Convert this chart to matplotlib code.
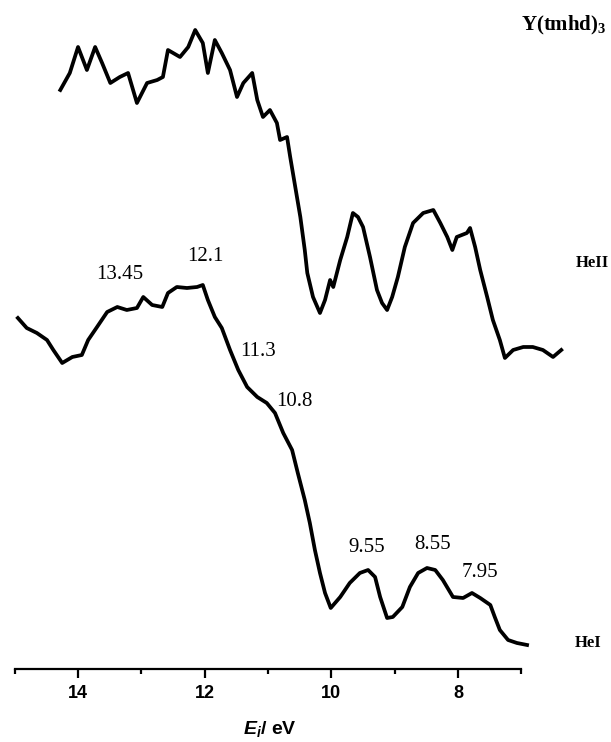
import matplotlib
matplotlib.use("Agg")
import matplotlib.pyplot as plt
from matplotlib.ticker import FixedLocator

plt.rcParams['mathtext.fontset'] = 'custom'
plt.rcParams['mathtext.rm'] = 'Liberation Sans:bold'
plt.rcParams['mathtext.it'] = 'Liberation Sans:italic:bold'
plt.rcParams['mathtext.bf'] = 'Liberation Serif:bold'

# HeII spectrum (ionisation energy / eV, intensity in arbitrary units)
he2_energy = [14.28, 14.13, 14.00, 13.86, 13.73, 13.62, 13.49, 13.34, 13.21, 13.07,
              12.91, 12.75, 12.66, 12.58, 12.39, 12.26, 12.15, 12.03, 11.95, 11.84,
              11.73, 11.60, 11.49, 11.39, 11.25, 11.17, 11.08, 10.97, 10.86, 10.81,
              10.70, 10.65, 10.57, 10.49, 10.42, 10.38, 10.29, 10.18, 10.10, 10.02,
              9.97, 9.86, 9.75, 9.66, 9.58, 9.50, 9.39, 9.28, 9.20, 9.12,
              9.04, 8.95, 8.84, 8.71, 8.55, 8.39, 8.28, 8.17, 8.09, 8.02,
              7.86, 7.81, 7.73, 7.65, 7.54, 7.45, 7.34, 7.26, 7.13, 6.97,
              6.82, 6.66, 6.50, 6.37]
he2_intensity = [579, 596, 622, 599, 622, 606, 586, 592, 596, 566,
                 586, 589, 592, 619, 612, 622, 639, 626, 596, 629,
                 616, 599, 572, 586, 596, 569, 552, 559, 546, 529,
                 532, 512, 482, 452, 419, 396, 372, 356, 369, 389,
                 382, 409, 432, 456, 452, 442, 412, 379, 366, 359,
                 372, 392, 422, 446, 456, 459, 446, 432, 419, 432,
                 436, 441, 422, 399, 372, 349, 329, 311, 319, 322,
                 322, 319, 312, 319]

# HeI spectrum
he1_energy = [14.95, 14.81, 14.65, 14.49, 14.39, 14.25, 14.09, 13.94, 13.84, 13.70,
              13.54, 13.38, 13.23, 13.07, 12.97, 12.83, 12.67, 12.58, 12.44, 12.28,
              12.12, 12.03, 11.95, 11.84, 11.73, 11.60, 11.47, 11.33, 11.17, 11.02,
              10.89, 10.76, 10.62, 10.53, 10.42, 10.34, 10.26, 10.18, 10.10, 10.01,
              9.86, 9.71, 9.55, 9.42, 9.31, 9.23, 9.12, 9.03, 8.88, 8.76,
              8.63, 8.49, 8.36, 8.24, 8.08, 7.92, 7.78, 7.65, 7.49, 7.42,
              7.34, 7.21, 7.07, 6.91]
he1_intensity = [351, 341, 336, 329, 319, 306, 312, 314, 329, 342,
                 357, 362, 359, 361, 372, 364, 362, 376, 382, 381,
                 382, 384, 369, 352, 341, 319, 299, 282, 272, 266,
                 256, 236, 219, 196, 169, 146, 119, 96, 76, 61,
                 72, 86, 96, 99, 92, 72, 51, 52, 62, 82,
                 96, 101, 99, 89, 72, 71, 76, 71, 64, 52,
                 39, 29, 26, 24]

# band labels on the HeI trace
peak_labels = ['13.45', '12.1', '11.3', '10.8', '9.55', '8.55', '7.95']
label_x = [13.34, 11.99, 11.16, 10.59, 9.45, 8.41, 7.65]
label_y = [394, 412, 317, 267, 121, 124, 96]

fig = plt.figure(figsize=(6.11, 7.42), dpi=100)
ax = fig.add_axes([0.02406, 0.0984, 0.9329, 0.9016])

ax.plot(he2_energy, he2_intensity, color='black', lw=2.7, clip_on=False)
ax.plot(he1_energy, he1_intensity, color='black', lw=2.7, clip_on=False)

for txt, x, y in zip(peak_labels, label_x, label_y):
    ax.text(x, y, txt, ha='center', va='center', fontsize=15,
            family='Liberation Serif')

ax.set_xlim(15, 6)
ax.set_ylim(0, 669)

for s in ['left', 'right', 'top']:
    ax.spines[s].set_visible(False)
ax.spines['bottom'].set_bounds(7, 15)
ax.spines['bottom'].set_linewidth(1.6)
ax.set_yticks([])

ax.xaxis.set_major_locator(FixedLocator([8, 10, 12, 14]))
ax.xaxis.set_minor_locator(FixedLocator([7, 9, 11, 13, 15]))
ax.tick_params(axis='x', which='major', length=6.5, width=1.6, pad=5,
               labelsize=13)
ax.tick_params(axis='x', which='minor', length=3.6, width=1.6)
for lab in ax.get_xticklabels():
    lab.set_fontweight('bold')
    lab.set_family('Liberation Sans')

fig.text(0.4419, 0.017, r'$E_i$/ eV', ha='center', va='center', fontsize=14,
         fontweight='bold', family='Liberation Sans')
fig.text(0.969, 0.6456, 'HeII', ha='center', va='center', fontsize=12,
         fontweight='bold', family='Liberation Serif')
fig.text(0.962, 0.1334, 'HeI', ha='center', va='center', fontsize=12,
         fontweight='bold', family='Liberation Serif')
fig.text(0.923, 0.966, r'$\mathbf{Y(tmhd)_3}$', ha='center', va='center',
         fontsize=15)

fig.savefig('out.png', dpi=100)
